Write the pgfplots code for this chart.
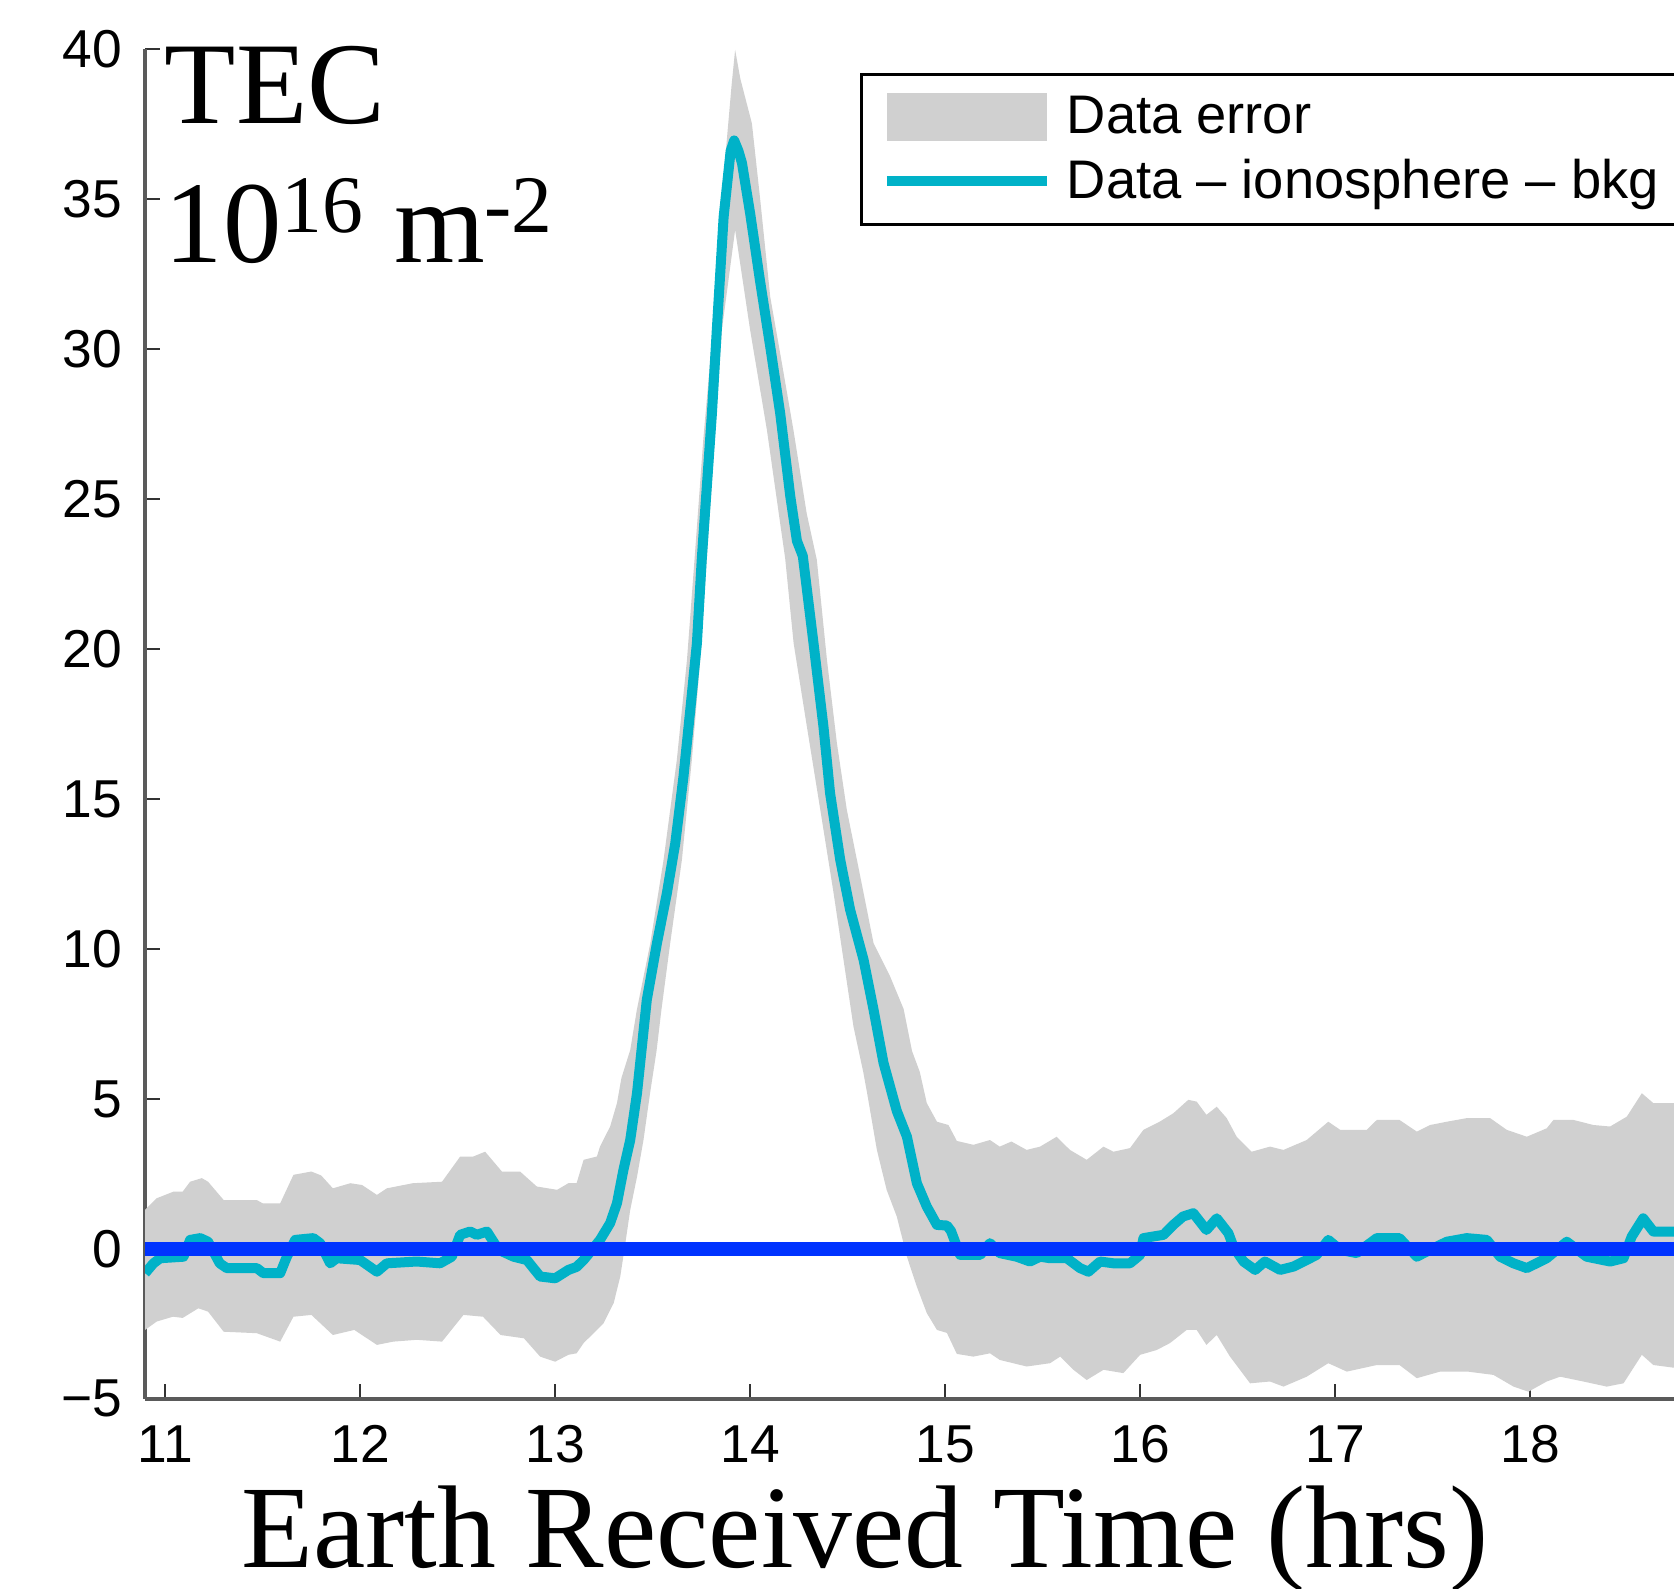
\documentclass[border=0pt]{standalone}
\usepackage{fontspec}
\setmainfont{Liberation Sans}
\newfontfamily\timesfont{Liberation Serif}
\usepackage{pgfplots}
\pgfplotsset{compat=1.18}
\definecolor{bandgray}{RGB}{208,208,208}
\definecolor{tecyan}{RGB}{0,178,200}
\definecolor{zeroblue}{RGB}{0,51,255}
\definecolor{axgray}{RGB}{90,90,90}
\begin{document}
\begin{tikzpicture}
\begin{axis}[
  x=58.5pt, y=9pt,
  xmin=10.897, xmax=18.76, ymin=-5, ymax=40,
  axis x line*=bottom, axis y line*=left,
  axis line style={axgray, line width=1pt},
  xtick={11,...,18}, xticklabels={11,12,13,14,15,16,17,18},
  ytick={-5,0,5,10,15,20,25,30,35,40}, yticklabels={−5,0,5,10,15,20,25,30,35,40},
  tick align=inside, major tick length=4.5pt,
  tick style={black!80, line width=0.8pt},
  tick label style={font=\fontsize{16}{19}\selectfont},
  xticklabel style={yshift=-4.5pt},
  yticklabel style={xshift=-3.3pt},
  xlabel={Earth Received Time (hrs)},
  xlabel style={font=\timesfont\fontsize{35.3}{40}\selectfont, at={(axis description cs:0.4697,0)}, anchor=base, yshift=-50.5pt},
  clip mode=individual,
  legend cell align=left,
  legend style={at={(axis cs:14.564,39.2)}, anchor=north west, draw=black, line width=1pt, fill=white,
    font=\fontsize{16.3}{19}\selectfont, inner xsep=6pt, inner ysep=4.5pt, row sep=2pt},
]
\addplot[fill=bandgray, draw=none,
  legend image code/.code={\fill[bandgray] (0pt,-7.2pt) rectangle (48pt,7.2pt);}]
coordinates {
(10.897,1.3) (10.957,1.69) (11.043,1.91) (11.09,1.91) (11.128,2.24) (11.188,2.36) (11.22,2.24)
(11.30,1.63) (11.47,1.63) (11.50,1.52) (11.59,1.52) (11.658,2.47) (11.75,2.58) (11.80,2.45)
(11.86,2.02) (11.95,2.19) (12.01,2.13) (12.086,1.8) (12.137,2.02) (12.27,2.19) (12.42,2.24)
(12.513,3.08) (12.58,3.08) (12.641,3.24) (12.727,2.58) (12.82,2.58) (12.906,2.08) (13.01,1.97)
(13.068,2.19) (13.11,2.19) (13.146,2.97) (13.214,3.08) (13.23,3.41) (13.282,4.08) (13.317,4.86)
(13.34,5.7) (13.385,6.63) (13.419,7.97) (13.488,10.19) (13.556,12.97) (13.624,16.3) (13.676,19.63)
(13.715,23.0) (13.76,27.0) (13.809,30.63) (13.855,35.08) (13.905,38.8) (13.923,39.97) (13.95,39.0)
(14.009,37.52) (14.05,35.08) (14.103,31.74) (14.163,29.52) (14.222,27.3) (14.29,24.52) (14.342,22.97)
(14.394,19.63) (14.445,16.86) (14.496,14.63) (14.565,12.41) (14.633,10.19) (14.718,9.08) (14.787,8.0)
(14.83,6.6) (14.87,5.9) (14.906,4.86) (14.958,4.24) (15.017,4.13) (15.06,3.6) (15.145,3.47)
(15.23,3.63) (15.28,3.41) (15.34,3.58) (15.418,3.3) (15.487,3.41) (15.572,3.74) (15.64,3.3)
(15.726,2.97) (15.812,3.41) (15.863,3.24) (15.948,3.36) (16.017,3.97) (16.10,4.24) (16.17,4.52)
(16.247,4.97) (16.29,4.91) (16.34,4.47) (16.393,4.74) (16.444,4.36) (16.495,3.74) (16.572,3.24)
(16.666,3.41) (16.735,3.3) (16.854,3.63) (16.965,4.24) (17.026,3.97) (17.162,3.97) (17.214,4.3)
(17.33,4.3) (17.419,3.91) (17.487,4.13) (17.573,4.24) (17.675,4.36) (17.795,4.36) (17.88,3.97)
(17.983,3.74) (18.085,4.02) (18.12,4.3) (18.222,4.3) (18.325,4.13) (18.41,4.08) (18.496,4.41)
(18.573,5.19) (18.632,4.86) (18.76,4.86)
(18.76,-3.98) (18.632,-3.87) (18.573,-3.53) (18.479,-4.48) (18.393,-4.59) (18.273,-4.42) (18.154,-4.26)
(18.085,-4.42) (17.991,-4.76) (17.915,-4.59) (17.812,-4.2) (17.68,-4.09) (17.538,-4.09) (17.419,-4.31)
(17.33,-3.87) (17.214,-3.87) (17.06,-4.09) (16.965,-3.81) (16.854,-4.26) (16.735,-4.59) (16.666,-4.42)
(16.564,-4.48) (16.461,-3.59) (16.393,-2.87) (16.34,-3.2) (16.29,-2.7) (16.239,-2.7) (16.153,-3.14)
(16.085,-3.37) (16.0,-3.53) (15.914,-4.14) (15.812,-4.03) (15.726,-4.37) (15.658,-4.03) (15.59,-3.59)
(15.538,-3.81) (15.418,-3.92) (15.28,-3.7) (15.23,-3.48) (15.145,-3.59) (15.06,-3.5) (15.009,-2.8)
(14.958,-2.7) (14.906,-2.14) (14.855,-1.26) (14.804,-0.26) (14.752,1.08) (14.7,1.97) (14.65,3.3)
(14.6,5.19) (14.58,5.9) (14.53,7.41) (14.479,9.63) (14.428,11.86) (14.36,14.63) (14.291,17.41)
(14.223,20.19) (14.18,23.0) (14.086,27.3) (14.0,30.63) (13.923,33.97) (13.855,30.63) (13.778,23.0)
(13.744,19.63) (13.701,16.3) (13.65,12.97) (13.59,10.19) (13.545,7.97) (13.52,6.6) (13.487,5.2)
(13.453,3.63) (13.42,2.41) (13.385,1.3) (13.36,0.19) (13.334,-0.92) (13.30,-1.81) (13.248,-2.48)
(13.197,-2.81) (13.146,-3.14) (13.11,-3.48) (13.068,-3.53) (13.0,-3.76) (12.923,-3.59) (12.84,-2.98)
(12.72,-2.87) (12.63,-2.26) (12.53,-2.2) (12.42,-3.09) (12.29,-3.03) (12.17,-3.09) (12.086,-3.2)
(11.97,-2.7) (11.86,-2.87) (11.75,-2.2) (11.658,-2.26) (11.59,-3.09) (11.47,-2.81) (11.30,-2.76)
(11.22,-2.09) (11.17,-1.98) (11.09,-2.3) (11.04,-2.26) (10.957,-2.42) (10.897,-2.7)
} -- cycle;
\addlegendentry{\hspace*{2.5pt}Data error}
\addplot[tecyan, line width=3pt, line join=round,
  legend image code/.code={\draw[tecyan, line width=3pt] (0pt,0pt) -- (48pt,0pt);}]
coordinates {
(10.897,-0.81) (10.94,-0.48) (10.975,-0.31) (11.094,-0.26) (11.128,0.30) (11.18,0.36) (11.22,0.24)
(11.28,-0.48) (11.316,-0.64) (11.47,-0.64) (11.504,-0.81) (11.59,-0.81) (11.624,-0.26) (11.667,0.30)
(11.76,0.36) (11.795,0.19) (11.846,-0.48) (11.88,-0.31) (12.0,-0.37) (12.086,-0.76) (12.137,-0.48)
(12.29,-0.42) (12.41,-0.48) (12.47,-0.26) (12.513,0.47) (12.564,0.58) (12.598,0.47) (12.65,0.58)
(12.71,-0.03) (12.787,-0.26) (12.855,-0.37) (12.923,-0.92) (13.0,-0.98) (13.068,-0.7) (13.11,-0.6)
(13.146,-0.37) (13.23,0.3) (13.282,0.86) (13.317,1.52) (13.35,2.63) (13.385,3.63) (13.42,5.2)
(13.47,8.3) (13.522,10.19) (13.573,11.86) (13.616,13.52) (13.658,15.74) (13.693,17.97) (13.727,20.19)
(13.752,23.0) (13.804,27.85) (13.829,30.63) (13.864,34.4) (13.90,36.6) (13.918,36.95) (13.94,36.6)
(13.958,36.2) (14.0,34.52) (14.05,32.3) (14.103,30.08) (14.154,27.86) (14.206,25.08) (14.24,23.6)
(14.27,23.1) (14.325,20.19) (14.376,17.41) (14.41,15.19) (14.462,12.97) (14.513,11.3) (14.582,9.63)
(14.633,7.97) (14.684,6.2) (14.752,4.6) (14.804,3.74) (14.855,2.19) (14.906,1.41) (14.958,0.8)
(15.009,0.78) (15.03,0.6) (15.06,0.08) (15.077,-0.2) (15.18,-0.2) (15.23,0.19) (15.28,-0.14)
(15.367,-0.26) (15.435,-0.42) (15.487,-0.26) (15.538,-0.31) (15.624,-0.31) (15.692,-0.64) (15.735,-0.76)
(15.795,-0.42) (15.863,-0.48) (15.948,-0.48) (16.0,-0.2) (16.017,0.36) (16.12,0.47) (16.17,0.8)
(16.22,1.08) (16.273,1.19) (16.34,0.63) (16.393,1.02) (16.453,0.52) (16.478,0.08) (16.53,-0.42)
(16.59,-0.7) (16.64,-0.42) (16.718,-0.7) (16.786,-0.59) (16.854,-0.37) (16.905,-0.2) (16.965,0.3)
(17.026,-0.03) (17.11,-0.14) (17.214,0.36) (17.33,0.36) (17.419,-0.26) (17.487,-0.03) (17.573,0.24)
(17.675,0.36) (17.778,0.3) (17.846,-0.26) (17.915,-0.48) (17.983,-0.64) (18.085,-0.31) (18.188,0.24)
(18.29,-0.26) (18.41,-0.42) (18.479,-0.31) (18.521,0.41) (18.58,1.02) (18.632,0.58) (18.76,0.58)
};
\addlegendentry{\hspace*{2.5pt}Data -- ionosphere -- bkg\hspace*{14pt}}
\addplot[zeroblue, line width=4pt, forget plot] coordinates {(10.897,0) (18.76,0)};
\node[anchor=base west, inner sep=0pt, font=\timesfont\fontsize{35}{42}\selectfont] at (axis cs:10.995,37.53) {TEC};
\node[anchor=base west, inner sep=0pt, font=\timesfont\fontsize{35}{42}\selectfont] at (axis cs:10.995,32.87) {10\textsuperscript{16} m\textsuperscript{-2}};
\coordinate (BL) at (axis cs:10.153,-11.333);
\coordinate (TR) at (axis cs:18.738,41.633);
\end{axis}
\pgfresetboundingbox
\useasboundingbox (BL) rectangle (TR);
\end{tikzpicture}
\end{document}
